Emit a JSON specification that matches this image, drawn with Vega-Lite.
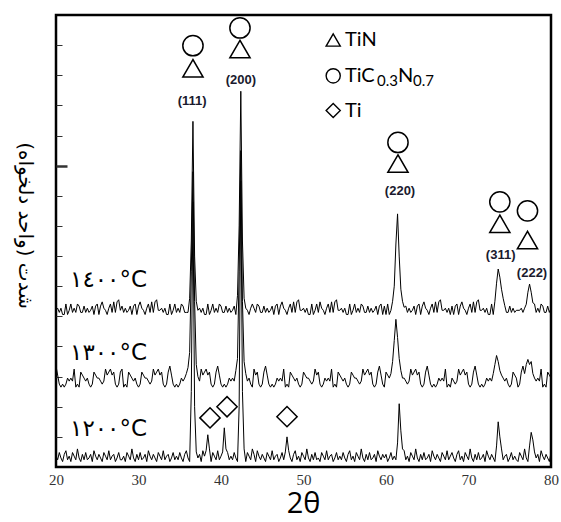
{
"$schema":"https://vega.github.io/schema/vega-lite/v6.json",
"width":495,"height":452,
"autosize":{"type":"none"},
"padding":{"left":56,"top":15,"right":10,"bottom":55},
"background":"white",
"config":{"view":{"stroke":"black","strokeWidth":2.5}},
"datasets":{
"xrd":[
{"x":20,"t1200":0.36,"t1300":3.35,"t1400":5.2},
{"x":20.2,"t1200":0.24,"t1300":3.05,"t1400":5.27},
{"x":20.4,"t1200":0.48,"t1300":2.75,"t1400":5.13},
{"x":20.6,"t1200":0.3,"t1300":2.65,"t1400":5.27},
{"x":20.8,"t1200":0.18,"t1300":2.75,"t1400":5.06},
{"x":21,"t1200":0.42,"t1300":2.65,"t1400":5.06},
{"x":21.2,"t1200":0.54,"t1300":2.75,"t1400":5.41},
{"x":21.4,"t1200":0.24,"t1300":2.95,"t1400":5.06},
{"x":21.6,"t1200":0.36,"t1300":2.85,"t1400":5.2},
{"x":21.8,"t1200":0.18,"t1300":2.95,"t1400":5.41},
{"x":22,"t1200":0.48,"t1300":2.85,"t1400":5.13},
{"x":22.2,"t1200":0.36,"t1300":3.25,"t1400":5.27},
{"x":22.4,"t1200":0.24,"t1300":2.65,"t1400":5.13},
{"x":22.6,"t1200":0.6,"t1300":2.75,"t1400":5.41},
{"x":22.8,"t1200":0.3,"t1300":2.65,"t1400":5.34},
{"x":23,"t1200":0.18,"t1300":3.15,"t1400":5.13},
{"x":23.2,"t1200":0.42,"t1300":3.05,"t1400":5.13},
{"x":23.4,"t1200":0.24,"t1300":2.95,"t1400":5.34},
{"x":23.6,"t1200":0.48,"t1300":2.85,"t1400":5.13},
{"x":23.8,"t1200":0.24,"t1300":2.95,"t1400":5.27},
{"x":24,"t1200":0.3,"t1300":2.75,"t1400":5.13},
{"x":24.2,"t1200":0.42,"t1300":2.65,"t1400":5.2},
{"x":24.4,"t1200":0.18,"t1300":2.75,"t1400":5.34},
{"x":24.6,"t1200":0.54,"t1300":3.15,"t1400":5.06},
{"x":24.8,"t1200":0.36,"t1300":3.05,"t1400":5.34},
{"x":25,"t1200":0.24,"t1300":2.95,"t1400":5.41},
{"x":25.2,"t1200":0.42,"t1300":2.95,"t1400":5.06},
{"x":25.4,"t1200":0.3,"t1300":2.85,"t1400":5.34},
{"x":25.6,"t1200":0.18,"t1300":2.75,"t1400":5.48},
{"x":25.8,"t1200":0.48,"t1300":2.85,"t1400":5.27},
{"x":26,"t1200":0.36,"t1300":3.25,"t1400":5.2},
{"x":26.2,"t1200":0.24,"t1300":3.05,"t1400":5.06},
{"x":26.4,"t1200":0.54,"t1300":3.15,"t1400":5.27},
{"x":26.6,"t1200":0.24,"t1300":3.25,"t1400":5.41},
{"x":26.8,"t1200":0.36,"t1300":3.05,"t1400":5.13},
{"x":27,"t1200":0.42,"t1300":3.15,"t1400":5.48},
{"x":27.2,"t1200":0.18,"t1300":2.75,"t1400":5.13},
{"x":27.4,"t1200":0.3,"t1300":2.65,"t1400":5.48},
{"x":27.6,"t1200":0.48,"t1300":2.75,"t1400":5.55},
{"x":27.8,"t1200":0.24,"t1300":3.15,"t1400":5.2},
{"x":28,"t1200":0.24,"t1300":3.25,"t1400":5.34},
{"x":28.2,"t1200":0.36,"t1300":2.65,"t1400":5.13},
{"x":28.4,"t1200":0.18,"t1300":2.75,"t1400":5.27},
{"x":28.6,"t1200":0.48,"t1300":2.65,"t1400":5.13},
{"x":28.8,"t1200":0.36,"t1300":3.15,"t1400":5.2},
{"x":29,"t1200":0.24,"t1300":3.05,"t1400":5.34},
{"x":29.2,"t1200":0.6,"t1300":2.95,"t1400":5.06},
{"x":29.4,"t1200":0.3,"t1300":2.85,"t1400":5.34},
{"x":29.6,"t1200":0.18,"t1300":2.95,"t1400":5.41},
{"x":29.8,"t1200":0.42,"t1300":2.75,"t1400":5.06},
{"x":30,"t1200":0.24,"t1300":2.65,"t1400":5.34},
{"x":30.2,"t1200":0.48,"t1300":2.75,"t1400":5.48},
{"x":30.4,"t1200":0.24,"t1300":3.15,"t1400":5.27},
{"x":30.6,"t1200":0.3,"t1300":3.05,"t1400":5.2},
{"x":30.8,"t1200":0.42,"t1300":2.95,"t1400":5.06},
{"x":31,"t1200":0.18,"t1300":2.95,"t1400":5.27},
{"x":31.2,"t1200":0.54,"t1300":2.85,"t1400":5.41},
{"x":31.4,"t1200":0.36,"t1300":2.75,"t1400":5.13},
{"x":31.6,"t1200":0.24,"t1300":2.85,"t1400":5.48},
{"x":31.8,"t1200":0.42,"t1300":3.25,"t1400":5.13},
{"x":32,"t1200":0.3,"t1300":3.05,"t1400":5.48},
{"x":32.2,"t1200":0.18,"t1300":3.15,"t1400":5.55},
{"x":32.4,"t1200":0.48,"t1300":3.25,"t1400":5.2},
{"x":32.6,"t1200":0.36,"t1300":3.05,"t1400":5.2},
{"x":32.8,"t1200":0.24,"t1300":3.15,"t1400":5.27},
{"x":33,"t1200":0.54,"t1300":2.75,"t1400":5.13},
{"x":33.2,"t1200":0.24,"t1300":2.65,"t1400":5.27},
{"x":33.4,"t1200":0.36,"t1300":2.75,"t1400":5.06},
{"x":33.6,"t1200":0.42,"t1300":3.15,"t1400":5.06},
{"x":33.8,"t1200":0.18,"t1300":3.35,"t1400":5.41},
{"x":34,"t1200":0.3,"t1300":3.05,"t1400":5.06},
{"x":34.2,"t1200":0.48,"t1300":2.75,"t1400":5.2},
{"x":34.4,"t1200":0.24,"t1300":2.65,"t1400":5.41},
{"x":34.6,"t1200":0.36,"t1300":2.75,"t1400":5.13},
{"x":34.8,"t1200":0.24,"t1300":2.65,"t1400":5.27},
{"x":35,"t1200":0.48,"t1300":2.75,"t1400":5.13},
{"x":35.2,"t1200":0.3,"t1300":2.95,"t1400":5.41},
{"x":35.4,"t1200":0.18,"t1300":2.85,"t1400":5.34},
{"x":35.6,"t1200":0.42,"t1300":2.95,"t1400":5.13},
{"x":35.8,"t1200":0.54,"t1300":3.1,"t1400":5.13},
{"x":36,"t1200":0.3,"t1300":3.3,"t1400":5.13},
{"x":36.2,"t1200":0.18,"t1300":3.8,"t1400":5.6},
{"x":36.4,"t1200":2.5,"t1300":6.5,"t1400":7.5},
{"x":36.6,"t1200":8.8,"t1300":9.8,"t1400":11.47},
{"x":36.8,"t1200":2.0,"t1300":5.5,"t1400":7.0},
{"x":37,"t1200":0.5,"t1300":3.4,"t1400":5.5},
{"x":37.2,"t1200":0.3,"t1300":3.0,"t1400":5.2},
{"x":37.4,"t1200":0.42,"t1300":2.85,"t1400":5.27},
{"x":37.6,"t1200":0.18,"t1300":3.25,"t1400":5.13},
{"x":37.8,"t1200":0.54,"t1300":3.05,"t1400":5.27},
{"x":38,"t1200":0.36,"t1300":3.15,"t1400":5.06},
{"x":38.2,"t1200":0.55,"t1300":3.25,"t1400":5.06},
{"x":38.4,"t1200":1.07,"t1300":3.05,"t1400":5.41},
{"x":38.6,"t1200":0.6,"t1300":3.15,"t1400":5.06},
{"x":38.8,"t1200":0.18,"t1300":2.75,"t1400":5.2},
{"x":39,"t1200":0.48,"t1300":2.65,"t1400":5.41},
{"x":39.2,"t1200":0.36,"t1300":2.75,"t1400":5.13},
{"x":39.4,"t1200":0.24,"t1300":3.15,"t1400":5.27},
{"x":39.6,"t1200":0.54,"t1300":3.35,"t1400":5.13},
{"x":39.8,"t1200":0.24,"t1300":3.05,"t1400":5.41},
{"x":40,"t1200":0.36,"t1300":2.75,"t1400":5.34},
{"x":40.2,"t1200":0.5,"t1300":2.65,"t1400":5.13},
{"x":40.4,"t1200":1.3,"t1300":2.75,"t1400":5.13},
{"x":40.6,"t1200":0.6,"t1300":2.65,"t1400":5.34},
{"x":40.8,"t1200":0.48,"t1300":2.75,"t1400":5.13},
{"x":41,"t1200":0.24,"t1300":2.95,"t1400":5.27},
{"x":41.2,"t1200":0.36,"t1300":2.85,"t1400":5.13},
{"x":41.4,"t1200":0.24,"t1300":2.95,"t1400":5.2},
{"x":41.6,"t1200":0.48,"t1300":2.85,"t1400":5.34},
{"x":41.8,"t1200":0.3,"t1300":3.2,"t1400":5.06},
{"x":42,"t1200":0.18,"t1300":3.6,"t1400":5.7},
{"x":42.2,"t1200":2.0,"t1300":6.5,"t1400":8.0},
{"x":42.4,"t1200":9.5,"t1300":10.5,"t1400":12.47},
{"x":42.6,"t1200":2.5,"t1300":5.5,"t1400":7.5},
{"x":42.8,"t1200":0.6,"t1300":3.5,"t1400":5.6},
{"x":43,"t1200":0.18,"t1300":3.1,"t1400":5.27},
{"x":43.2,"t1200":0.48,"t1300":2.85,"t1400":5.2},
{"x":43.4,"t1200":0.36,"t1300":2.95,"t1400":5.06},
{"x":43.6,"t1200":0.24,"t1300":2.75,"t1400":5.27},
{"x":43.8,"t1200":0.6,"t1300":2.65,"t1400":5.41},
{"x":44,"t1200":0.42,"t1300":3.25,"t1400":5.27},
{"x":44.2,"t1200":0.18,"t1300":3.05,"t1400":5.13},
{"x":44.4,"t1200":0.54,"t1300":3.15,"t1400":5.41},
{"x":44.6,"t1200":0.36,"t1300":2.75,"t1400":5.34},
{"x":44.8,"t1200":0.24,"t1300":2.65,"t1400":5.13},
{"x":45,"t1200":0.42,"t1300":2.75,"t1400":5.13},
{"x":45.2,"t1200":0.3,"t1300":3.15,"t1400":5.34},
{"x":45.4,"t1200":0.18,"t1300":3.35,"t1400":5.13},
{"x":45.6,"t1200":0.48,"t1300":3.05,"t1400":5.27},
{"x":45.8,"t1200":0.36,"t1300":2.75,"t1400":5.13},
{"x":46,"t1200":0.24,"t1300":2.65,"t1400":5.2},
{"x":46.2,"t1200":0.54,"t1300":2.75,"t1400":5.34},
{"x":46.4,"t1200":0.24,"t1300":2.65,"t1400":5.06},
{"x":46.6,"t1200":0.36,"t1300":2.75,"t1400":5.34},
{"x":46.8,"t1200":0.42,"t1300":2.95,"t1400":5.41},
{"x":47,"t1200":0.18,"t1300":2.85,"t1400":5.06},
{"x":47.2,"t1200":0.3,"t1300":2.95,"t1400":5.34},
{"x":47.4,"t1200":0.48,"t1300":2.85,"t1400":5.48},
{"x":47.6,"t1200":0.24,"t1300":3.25,"t1400":5.27},
{"x":47.8,"t1200":0.5,"t1300":2.65,"t1400":5.2},
{"x":48,"t1200":1.0,"t1300":2.75,"t1400":5.06},
{"x":48.2,"t1200":0.55,"t1300":2.65,"t1400":5.27},
{"x":48.4,"t1200":0.3,"t1300":3.15,"t1400":5.41},
{"x":48.6,"t1200":0.18,"t1300":3.05,"t1400":5.13},
{"x":48.8,"t1200":0.42,"t1300":2.95,"t1400":5.48},
{"x":49,"t1200":0.54,"t1300":2.85,"t1400":5.13},
{"x":49.2,"t1200":0.24,"t1300":2.95,"t1400":5.48},
{"x":49.4,"t1200":0.36,"t1300":2.75,"t1400":5.55},
{"x":49.6,"t1200":0.18,"t1300":2.65,"t1400":5.2},
{"x":49.8,"t1200":0.48,"t1300":2.75,"t1400":5.2},
{"x":50,"t1200":0.36,"t1300":3.15,"t1400":5.27},
{"x":50.2,"t1200":0.24,"t1300":3.05,"t1400":5.13},
{"x":50.4,"t1200":0.6,"t1300":2.95,"t1400":5.27},
{"x":50.6,"t1200":0.3,"t1300":2.95,"t1400":5.06},
{"x":50.8,"t1200":0.18,"t1300":2.85,"t1400":5.06},
{"x":51,"t1200":0.42,"t1300":2.75,"t1400":5.41},
{"x":51.2,"t1200":0.24,"t1300":2.85,"t1400":5.06},
{"x":51.4,"t1200":0.48,"t1300":3.25,"t1400":5.2},
{"x":51.6,"t1200":0.24,"t1300":3.05,"t1400":5.41},
{"x":51.8,"t1200":0.3,"t1300":3.15,"t1400":5.13},
{"x":52,"t1200":0.18,"t1300":2.75,"t1400":5.48},
{"x":52.2,"t1200":0.48,"t1300":2.65,"t1400":5.27},
{"x":52.4,"t1200":0.36,"t1300":2.75,"t1400":5.2},
{"x":52.6,"t1200":0.24,"t1300":2.95,"t1400":5.06},
{"x":52.8,"t1200":0.54,"t1300":2.85,"t1400":5.27},
{"x":53,"t1200":0.24,"t1300":2.95,"t1400":5.41},
{"x":53.2,"t1200":0.36,"t1300":2.85,"t1400":5.13},
{"x":53.4,"t1200":0.42,"t1300":3.25,"t1400":5.48},
{"x":53.6,"t1200":0.18,"t1300":2.65,"t1400":5.13},
{"x":53.8,"t1200":0.3,"t1300":2.75,"t1400":5.48},
{"x":54,"t1200":0.48,"t1300":2.65,"t1400":5.55},
{"x":54.2,"t1200":0.24,"t1300":3.15,"t1400":5.2},
{"x":54.4,"t1200":0.36,"t1300":3.05,"t1400":5.2},
{"x":54.6,"t1200":0.24,"t1300":2.95,"t1400":5.27},
{"x":54.8,"t1200":0.48,"t1300":2.85,"t1400":5.13},
{"x":55,"t1200":0.3,"t1300":2.95,"t1400":5.27},
{"x":55.2,"t1200":0.18,"t1300":2.75,"t1400":5.06},
{"x":55.4,"t1200":0.42,"t1300":2.65,"t1400":5.06},
{"x":55.6,"t1200":0.54,"t1300":2.75,"t1400":5.41},
{"x":55.8,"t1200":0.24,"t1300":3.15,"t1400":5.06},
{"x":56,"t1200":0.36,"t1300":3.05,"t1400":5.2},
{"x":56.2,"t1200":0.18,"t1300":2.95,"t1400":5.41},
{"x":56.4,"t1200":0.48,"t1300":2.95,"t1400":5.13},
{"x":56.6,"t1200":0.36,"t1300":2.85,"t1400":5.27},
{"x":56.8,"t1200":0.24,"t1300":2.75,"t1400":5.13},
{"x":57,"t1200":0.6,"t1300":2.85,"t1400":5.41},
{"x":57.2,"t1200":0.3,"t1300":3.25,"t1400":5.34},
{"x":57.4,"t1200":0.18,"t1300":3.05,"t1400":5.13},
{"x":57.6,"t1200":0.42,"t1300":3.15,"t1400":5.13},
{"x":57.8,"t1200":0.24,"t1300":3.25,"t1400":5.34},
{"x":58,"t1200":0.48,"t1300":3.05,"t1400":5.13},
{"x":58.2,"t1200":0.24,"t1300":3.15,"t1400":5.27},
{"x":58.4,"t1200":0.3,"t1300":2.75,"t1400":5.13},
{"x":58.6,"t1200":0.42,"t1300":2.65,"t1400":5.2},
{"x":58.8,"t1200":0.18,"t1300":2.75,"t1400":5.34},
{"x":59,"t1200":0.54,"t1300":3.15,"t1400":5.06},
{"x":59.2,"t1200":0.36,"t1300":3.35,"t1400":5.34},
{"x":59.4,"t1200":0.24,"t1300":3.05,"t1400":5.41},
{"x":59.6,"t1200":0.42,"t1300":2.75,"t1400":5.06},
{"x":59.8,"t1200":0.3,"t1300":2.65,"t1400":5.34},
{"x":60,"t1200":0.42,"t1300":3.15,"t1400":5.06},
{"x":60.2,"t1200":0.18,"t1300":3.05,"t1400":5.41},
{"x":60.4,"t1200":0.3,"t1300":2.95,"t1400":5.06},
{"x":60.6,"t1200":0.48,"t1300":3.1,"t1400":5.2},
{"x":60.8,"t1200":0.24,"t1300":3.5,"t1400":5.5},
{"x":61,"t1200":0.36,"t1300":4.2,"t1400":6.0},
{"x":61.2,"t1200":0.24,"t1300":4.9,"t1400":7.4},
{"x":61.4,"t1200":0.8,"t1300":4.3,"t1400":8.4},
{"x":61.6,"t1200":2.1,"t1300":3.6,"t1400":7.0},
{"x":61.8,"t1200":1.2,"t1300":3.2,"t1400":5.9},
{"x":62,"t1200":0.6,"t1300":2.95,"t1400":5.5},
{"x":62.2,"t1200":0.54,"t1300":2.95,"t1400":5.3},
{"x":62.4,"t1200":0.24,"t1300":2.85,"t1400":5.34},
{"x":62.6,"t1200":0.36,"t1300":2.75,"t1400":5.13},
{"x":62.8,"t1200":0.18,"t1300":2.85,"t1400":5.27},
{"x":63,"t1200":0.48,"t1300":3.25,"t1400":5.13},
{"x":63.2,"t1200":0.36,"t1300":3.05,"t1400":5.2},
{"x":63.4,"t1200":0.24,"t1300":3.15,"t1400":5.34},
{"x":63.6,"t1200":0.6,"t1300":3.25,"t1400":5.06},
{"x":63.8,"t1200":0.3,"t1300":3.05,"t1400":5.34},
{"x":64,"t1200":0.18,"t1300":3.15,"t1400":5.41},
{"x":64.2,"t1200":0.42,"t1300":2.75,"t1400":5.06},
{"x":64.4,"t1200":0.24,"t1300":2.65,"t1400":5.34},
{"x":64.6,"t1200":0.48,"t1300":2.75,"t1400":5.48},
{"x":64.8,"t1200":0.24,"t1300":3.15,"t1400":5.27},
{"x":65,"t1200":0.3,"t1300":3.35,"t1400":5.2},
{"x":65.2,"t1200":0.42,"t1300":3.05,"t1400":5.06},
{"x":65.4,"t1200":0.18,"t1300":2.75,"t1400":5.27},
{"x":65.6,"t1200":0.54,"t1300":2.65,"t1400":5.41},
{"x":65.8,"t1200":0.36,"t1300":2.75,"t1400":5.13},
{"x":66,"t1200":0.24,"t1300":2.65,"t1400":5.48},
{"x":66.2,"t1200":0.42,"t1300":2.75,"t1400":5.13},
{"x":66.4,"t1200":0.3,"t1300":2.95,"t1400":5.48},
{"x":66.6,"t1200":0.18,"t1300":2.85,"t1400":5.55},
{"x":66.8,"t1200":0.48,"t1300":2.95,"t1400":5.2},
{"x":67,"t1200":0.36,"t1300":2.85,"t1400":5.2},
{"x":67.2,"t1200":0.24,"t1300":3.25,"t1400":5.27},
{"x":67.4,"t1200":0.54,"t1300":2.65,"t1400":5.13},
{"x":67.6,"t1200":0.24,"t1300":2.75,"t1400":5.27},
{"x":67.8,"t1200":0.36,"t1300":2.65,"t1400":5.06},
{"x":68,"t1200":0.48,"t1300":2.95,"t1400":5.34},
{"x":68.2,"t1200":0.3,"t1300":2.85,"t1400":5.06},
{"x":68.4,"t1200":0.18,"t1300":2.75,"t1400":5.34},
{"x":68.6,"t1200":0.42,"t1300":2.85,"t1400":5.41},
{"x":68.8,"t1200":0.54,"t1300":3.25,"t1400":5.06},
{"x":69,"t1200":0.24,"t1300":3.05,"t1400":5.34},
{"x":69.2,"t1200":0.36,"t1300":3.15,"t1400":5.48},
{"x":69.4,"t1200":0.18,"t1300":3.25,"t1400":5.27},
{"x":69.6,"t1200":0.48,"t1300":3.05,"t1400":5.2},
{"x":69.8,"t1200":0.36,"t1300":3.15,"t1400":5.06},
{"x":70,"t1200":0.24,"t1300":2.75,"t1400":5.27},
{"x":70.2,"t1200":0.6,"t1300":2.65,"t1400":5.41},
{"x":70.4,"t1200":0.3,"t1300":2.75,"t1400":5.13},
{"x":70.6,"t1200":0.18,"t1300":3.15,"t1400":5.48},
{"x":70.8,"t1200":0.42,"t1300":3.35,"t1400":5.13},
{"x":71,"t1200":0.24,"t1300":3.05,"t1400":5.48},
{"x":71.2,"t1200":0.48,"t1300":2.75,"t1400":5.55},
{"x":71.4,"t1200":0.24,"t1300":2.65,"t1400":5.2},
{"x":71.6,"t1200":0.3,"t1300":2.75,"t1400":5.2},
{"x":71.8,"t1200":0.42,"t1300":2.65,"t1400":5.27},
{"x":72,"t1200":0.18,"t1300":2.75,"t1400":5.13},
{"x":72.2,"t1200":0.54,"t1300":2.95,"t1400":5.27},
{"x":72.4,"t1200":0.36,"t1300":2.85,"t1400":5.06},
{"x":72.6,"t1200":0.24,"t1300":2.95,"t1400":5.06},
{"x":72.8,"t1200":0.42,"t1300":2.85,"t1400":5.41},
{"x":73,"t1200":0.3,"t1300":3.1,"t1400":5.06},
{"x":73.2,"t1200":0.18,"t1300":3.4,"t1400":5.5},
{"x":73.4,"t1200":0.7,"t1300":3.7,"t1400":6.1},
{"x":73.6,"t1200":1.5,"t1300":3.5,"t1400":6.57},
{"x":73.8,"t1200":1.0,"t1300":3.2,"t1400":6.3},
{"x":74,"t1200":0.6,"t1300":3.05,"t1400":5.9},
{"x":74.2,"t1200":0.24,"t1300":2.95,"t1400":5.6},
{"x":74.4,"t1200":0.36,"t1300":2.85,"t1400":5.35},
{"x":74.6,"t1200":0.42,"t1300":2.95,"t1400":5.13},
{"x":74.8,"t1200":0.18,"t1300":2.75,"t1400":5.13},
{"x":75,"t1200":0.3,"t1300":2.65,"t1400":5.34},
{"x":75.2,"t1200":0.48,"t1300":2.75,"t1400":5.13},
{"x":75.4,"t1200":0.24,"t1300":3.15,"t1400":5.27},
{"x":75.6,"t1200":0.36,"t1300":3.05,"t1400":5.13},
{"x":75.8,"t1200":0.24,"t1300":2.95,"t1400":5.2},
{"x":76,"t1200":0.18,"t1300":2.65,"t1400":5.2},
{"x":76.2,"t1200":0.48,"t1300":2.75,"t1400":5.2},
{"x":76.4,"t1200":0.36,"t1300":3.15,"t1400":5.27},
{"x":76.6,"t1200":0.24,"t1300":3.35,"t1400":5.13},
{"x":76.8,"t1200":0.6,"t1300":3.1,"t1400":5.27},
{"x":77,"t1200":0.3,"t1300":3.4,"t1400":5.4},
{"x":77.2,"t1200":0.18,"t1300":3.57,"t1400":5.8},
{"x":77.4,"t1200":0.7,"t1300":3.4,"t1400":6.07},
{"x":77.6,"t1200":1.15,"t1300":3.5,"t1400":5.8},
{"x":77.8,"t1200":0.9,"t1300":3.1,"t1400":5.45},
{"x":78,"t1200":0.5,"t1300":2.95,"t1400":5.41},
{"x":78.2,"t1200":0.3,"t1300":2.85,"t1400":5.13},
{"x":78.4,"t1200":0.42,"t1300":2.95,"t1400":5.27},
{"x":78.6,"t1200":0.18,"t1300":2.85,"t1400":5.13},
{"x":78.8,"t1200":0.54,"t1300":3.25,"t1400":5.41},
{"x":79,"t1200":0.36,"t1300":2.65,"t1400":5.34},
{"x":79.2,"t1200":0.24,"t1300":2.75,"t1400":5.13},
{"x":79.4,"t1200":0.42,"t1300":2.65,"t1400":5.13},
{"x":79.6,"t1200":0.3,"t1300":3.15,"t1400":5.34},
{"x":79.8,"t1200":0.18,"t1300":3.05,"t1400":5.13},
{"x":80,"t1200":0.48,"t1300":2.95,"t1400":5.27}
],
"peakSymbols":[
{"x":36.6,"y":13.98,"phase":"TiCN"},{"x":36.6,"y":13.23,"phase":"TiN"},
{"x":42.3,"y":14.57,"phase":"TiCN"},{"x":42.3,"y":13.87,"phase":"TiN"},
{"x":61.45,"y":10.77,"phase":"TiCN"},{"x":61.45,"y":10.07,"phase":"TiN"},
{"x":73.8,"y":8.8,"phase":"TiCN"},{"x":73.8,"y":8.07,"phase":"TiN"},
{"x":77.15,"y":8.5,"phase":"TiCN"},{"x":77.15,"y":7.53,"phase":"TiN"},
{"x":38.67,"y":1.63,"phase":"Ti"},{"x":40.73,"y":2.0,"phase":"Ti"},{"x":48.0,"y":1.67,"phase":"Ti"}
],
"legendSymbols":[
{"x":53.6,"y":14.17,"phase":"TiN"},{"x":53.6,"y":12.98,"phase":"TiCN"},{"x":53.6,"y":11.83,"phase":"Ti"}
],
"legendText":[
{"x":55.03,"y":14.17,"t":"TiN"},{"x":55.03,"y":12.98,"t":"TiC"},{"x":61.45,"y":12.98,"t":"N"},{"x":55.03,"y":11.83,"t":"Ti"}
],
"legendSub":[
{"x":58.91,"y":12.8,"t":"0.3"},{"x":63.27,"y":12.8,"t":"0.7"}
],
"peakLabels":[
{"x":36.5,"y":12.13,"t":"(111)"},{"x":42.4,"y":12.83,"t":"(200)"},{"x":61.7,"y":9.17,"t":"(220)"},{"x":73.9,"y":7.03,"t":"(311)"},{"x":77.7,"y":6.43,"t":"(222)"}
],
"temps":[
{"x":21.7,"y":6.2,"t":"١٤٠٠°C"},{"x":21.7,"y":3.77,"t":"١٣٠٠°C"},{"x":21.7,"y":1.27,"t":"١٢٠٠°C"}
]
},
"encoding":{
"x":{"field":"x","type":"quantitative","scale":{"domain":[20,80],"nice":false,"zero":false},
"axis":{"values":[20,30,40,50,60,70,80],"ticks":false,"domain":false,"grid":false,"labelFlush":false,"labelOverlap":false,"labelFont":"Liberation Serif","labelFontSize":15,"labelColor":"#333","labelPadding":5,"title":"2θ","titleFont":"Open Sans","titleFontSize":29,"titleFontWeight":"normal","titleColor":"black","titleBaseline":"alphabetic","titleAlign":"center","titleY":45,"titleX":247}},
"y":{"field":"y","type":"quantitative","scale":{"domain":[0,15],"nice":false,"zero":false},
"axis":{"values":[1,2,3,4,5,6,7,8,9,10,11,12,13,14],"labels":false,"domain":false,"grid":false,"tickColor":"#333","tickWidth":{"condition":{"test":"datum.value == 10","value":2.5},"value":1},"tickSize":{"condition":{"test":"datum.value == 10","value":-11},"value":-6},"title":"شدت (واحد دلخواه)","titleAngle":90,"titleFont":"DejaVu Sans","titleFontSize":20,"titleFontWeight":"normal","titleColor":"black","titleAlign":"center","titleBaseline":"middle","titleX":-32,"titleY":210}}
},
"layer":[
{
"data":{"name":"xrd"},
"transform":[{"fold":["t1200","t1300","t1400"],"as":["series","y"]}],
"mark":{"type":"line","color":"black","strokeWidth":1,"clip":true},
"encoding":{"detail":{"field":"series","type":"nominal"}}
},
{
"data":{"name":"peakSymbols"},
"mark":{"type":"point","filled":false,"stroke":"black","strokeWidth":1.5,"opacity":1,"size":410},
"encoding":{
"shape":{"field":"phase","type":"nominal","scale":{"domain":["TiN","TiCN","Ti"],"range":["triangle-up","circle","diamond"]},"legend":null}
}
},
{
"data":{"name":"legendSymbols"},
"mark":{"type":"point","filled":false,"stroke":"black","strokeWidth":1.4,"opacity":1,"size":200},
"encoding":{
"shape":{"field":"phase","type":"nominal","legend":null}
}
},
{
"data":{"name":"legendText"},
"mark":{"type":"text","align":"left","baseline":"middle","font":"Lato","fontSize":20,"color":"black"},
"encoding":{"text":{"field":"t"}}
},
{
"data":{"name":"legendSub"},
"mark":{"type":"text","align":"left","baseline":"middle","font":"Lato","fontSize":15,"color":"black"},
"encoding":{"text":{"field":"t"}}
},
{
"data":{"name":"peakLabels"},
"mark":{"type":"text","align":"center","baseline":"middle","font":"Liberation Sans","fontSize":13,"fontWeight":"bold","color":"#1a1a2e"},
"encoding":{"text":{"field":"t"}}
},
{
"data":{"name":"temps"},
"mark":{"type":"text","align":"left","baseline":"middle","font":"DejaVu Sans","fontSize":23,"color":"black"},
"encoding":{"text":{"field":"t"}}
}
]
}
